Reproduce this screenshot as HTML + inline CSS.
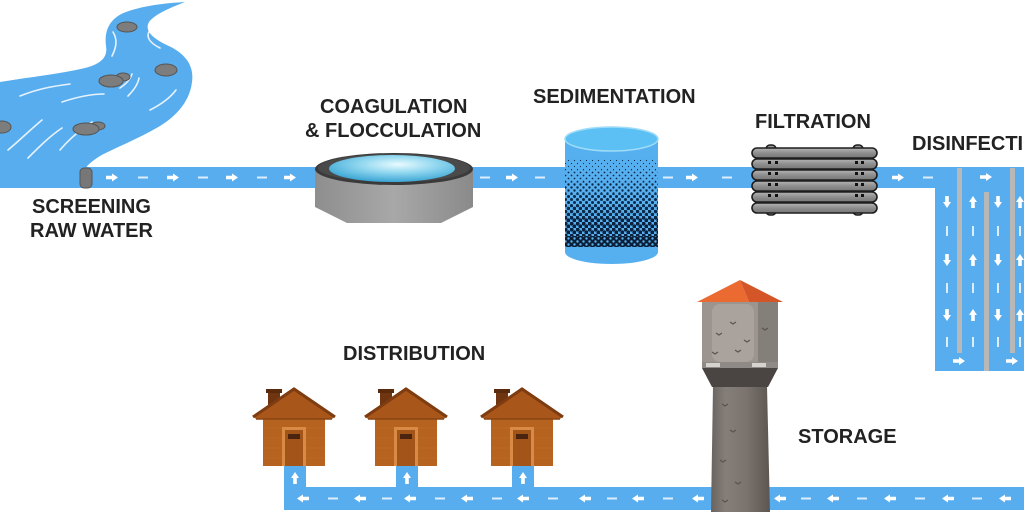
<!DOCTYPE html>
<html><head><meta charset="utf-8"><style>
html,body{margin:0;padding:0;background:#fff;}
svg{display:block;}
text{font-family:"Liberation Sans",Arial,sans-serif;font-weight:bold;font-size:20px;fill:#222;}
</style></head><body>
<svg width="1024" height="512" viewBox="0 0 1024 512" xmlns="http://www.w3.org/2000/svg">
<defs>
<path id="ar" d="M-6,-1.8H0V-4L6,0L0,4V1.8H-6Z" fill="#fff"/>
<rect id="dh" x="-5" y="-1" width="10" height="2" fill="#dceefc"/>
<rect id="dv" x="-1" y="-5" width="2" height="10" fill="#dceefc"/>
<radialGradient id="water" cx="0.55" cy="0.35" r="0.7">
<stop offset="0" stop-color="#e8fbff"/><stop offset="0.45" stop-color="#8fd6ef"/><stop offset="1" stop-color="#2f9fd0"/>
</radialGradient>
<linearGradient id="coagBody" x1="0" y1="0" x2="1" y2="0">
<stop offset="0" stop-color="#8e8e8e"/><stop offset="0.5" stop-color="#a8a8a8"/><stop offset="1" stop-color="#8a8a8a"/>
</linearGradient>
<linearGradient id="bar" x1="0" y1="0" x2="0" y2="1">
<stop offset="0" stop-color="#b5b5b5"/><stop offset="0.5" stop-color="#8e8e8e"/><stop offset="1" stop-color="#777"/>
</linearGradient>
<linearGradient id="shaft" x1="0" y1="0" x2="1" y2="0">
<stop offset="0" stop-color="#6a6460"/><stop offset="0.25" stop-color="#857e79"/><stop offset="0.6" stop-color="#7a736e"/><stop offset="1" stop-color="#5c5652"/>
</linearGradient>
<pattern id="p1" width="6" height="6" patternUnits="userSpaceOnUse"><circle cx="1.5" cy="1.5" r="0.6" fill="#0d2a4a"/><circle cx="4.5" cy="4.5" r="0.6" fill="#0d2a4a"/></pattern>
<pattern id="p2" width="6" height="6" patternUnits="userSpaceOnUse"><circle cx="1.5" cy="1.5" r="0.9" fill="#0d2a4a"/><circle cx="4.5" cy="4.5" r="0.9" fill="#0d2a4a"/></pattern>
<pattern id="p3" width="6" height="6" patternUnits="userSpaceOnUse"><circle cx="1.5" cy="1.5" r="1.2" fill="#0d2a4a"/><circle cx="4.5" cy="4.5" r="1.2" fill="#0d2a4a"/></pattern>
<pattern id="p4" width="6" height="6" patternUnits="userSpaceOnUse"><circle cx="1.5" cy="1.5" r="1.5" fill="#0d2a4a"/><circle cx="4.5" cy="4.5" r="1.5" fill="#0d2a4a"/></pattern>
<pattern id="p5" width="6" height="6" patternUnits="userSpaceOnUse"><circle cx="1.5" cy="1.5" r="1.8" fill="#0d2a4a"/><circle cx="4.5" cy="4.5" r="1.8" fill="#0d2a4a"/></pattern>
<pattern id="p6" width="6" height="6" patternUnits="userSpaceOnUse"><circle cx="1.5" cy="1.5" r="2.1" fill="#0b2240"/><circle cx="4.5" cy="4.5" r="2.1" fill="#0b2240"/></pattern>
<pattern id="p7" width="6" height="6" patternUnits="userSpaceOnUse"><rect width="6" height="6" fill="#0b1f38"/><circle cx="1.5" cy="1.5" r="1.2" fill="#5ab2ee"/><circle cx="4.5" cy="4.5" r="1.2" fill="#5ab2ee"/></pattern>
<g id="house">
<rect x="-31" y="26" width="62" height="52" fill="#b5631e"/>
<g stroke="#c87a3a" stroke-width="0.6" opacity="0.5">
<line x1="-31" y1="40" x2="31" y2="40"/><line x1="-31" y1="50" x2="31" y2="50"/><line x1="-31" y1="60" x2="31" y2="60"/><line x1="-31" y1="70" x2="31" y2="70"/>
</g>
<rect x="-26" y="2" width="12" height="16" fill="#6e3510"/>
<rect x="-28" y="1" width="16" height="4" fill="#5a2a0c"/>
<polygon points="-41,28 0,0 41,28 38,31 -38,31" fill="#a8561a"/>
<polyline points="-41,29 0,1 41,29" fill="none" stroke="#7e3c10" stroke-width="3" stroke-linejoin="miter"/>
<line x1="-38" y1="31" x2="38" y2="31" stroke="#8a4414" stroke-width="1.5"/>
<rect x="-12" y="39" width="24" height="39" fill="#d98a45"/>
<rect x="-9" y="42" width="18" height="36" fill="#a35418"/>
<rect x="-6" y="46" width="12" height="5" fill="#4a2410"/>
</g>
</defs>

<!-- River -->
<path d="M0,82 C30,77 60,74 85,68 C100,64 108,58 106,46 C104,30 110,18 126,12 C142,6 165,3 185,2 C170,8 155,14 149,22 C144,31 153,39 171,47 C188,56 194,68 192,82 C190,100 178,115 160,126 C140,138 115,148 100,156 C92,161 86,166 85,170 L85,188 L0,188 Z" fill="#58adef"/>
<g fill="none" stroke="#fff" stroke-width="1.6" stroke-linecap="round" opacity="0.85">
<path d="M113,32 C118,40 116,48 112,56"/>
<path d="M150,30 C145,37 150,43 160,48"/>
<path d="M120,88 C126,84 130,80 132,74"/>
<path d="M128,96 C134,90 138,84 139,78"/>
<path d="M20,96 C40,88 55,86 70,84"/>
<path d="M8,150 C20,140 30,130 42,120"/>
<path d="M28,158 C40,146 50,136 62,128"/>
<path d="M60,150 C70,138 80,130 92,122"/>
<path d="M150,110 C160,105 170,98 176,90"/>
<path d="M62,102 C80,96 92,94 104,94"/>
</g>
<g fill="#7d7d7d" stroke="#555" stroke-width="1">
<ellipse cx="127" cy="27" rx="10" ry="5"/>
<ellipse cx="166" cy="70" rx="11" ry="6"/>
<ellipse cx="123" cy="77" rx="7" ry="4"/>
<ellipse cx="111" cy="81" rx="12" ry="6"/>
<ellipse cx="98" cy="126" rx="7" ry="4"/>
<ellipse cx="86" cy="129" rx="13" ry="6"/>
<ellipse cx="2" cy="127" rx="9" ry="6"/>
</g>

<!-- Top pipe -->
<rect x="85" y="167" width="850" height="21" fill="#58adef"/>
<rect x="80" y="168" width="12" height="20" rx="4" fill="#777" stroke="#555" stroke-width="1"/>
<g>
<use href="#ar" x="112" y="177.5"/><use href="#ar" x="173" y="177.5"/><use href="#ar" x="232" y="177.5"/><use href="#ar" x="290" y="177.5"/>
<use href="#ar" x="512" y="177.5"/><use href="#ar" x="692" y="177.5"/><use href="#ar" x="898" y="177.5"/>
<use href="#dh" x="143" y="177.5"/><use href="#dh" x="203" y="177.5"/><use href="#dh" x="262" y="177.5"/>
<use href="#dh" x="485" y="177.5"/><use href="#dh" x="540" y="177.5"/><use href="#dh" x="668" y="177.5"/><use href="#dh" x="727" y="177.5"/><use href="#dh" x="928" y="177.5"/>
</g>

<!-- Disinfection block -->
<rect x="935" y="167" width="89" height="204" fill="#58adef"/>
<rect x="957" y="168" width="5" height="185" fill="#b8b8b8"/>
<rect x="984" y="192" width="5" height="179" fill="#b8b8b8"/>
<rect x="1010" y="168" width="5" height="185" fill="#b8b8b8"/>
<g>
<use href="#ar" transform="translate(947,202) rotate(90)"/><use href="#ar" transform="translate(947,260) rotate(90)"/><use href="#ar" transform="translate(947,315) rotate(90)"/>
<use href="#ar" transform="translate(973,202) rotate(-90)"/><use href="#ar" transform="translate(973,260) rotate(-90)"/><use href="#ar" transform="translate(973,315) rotate(-90)"/>
<use href="#ar" transform="translate(998,202) rotate(90)"/><use href="#ar" transform="translate(998,260) rotate(90)"/><use href="#ar" transform="translate(998,315) rotate(90)"/>
<use href="#ar" transform="translate(1020,202) rotate(-90)"/><use href="#ar" transform="translate(1020,260) rotate(-90)"/><use href="#ar" transform="translate(1020,315) rotate(-90)"/>
<use href="#dv" x="947" y="231"/><use href="#dv" x="947" y="288"/><use href="#dv" x="947" y="342"/>
<use href="#dv" x="973" y="231"/><use href="#dv" x="973" y="288"/><use href="#dv" x="973" y="342"/>
<use href="#dv" x="998" y="231"/><use href="#dv" x="998" y="288"/><use href="#dv" x="998" y="342"/>
<use href="#dv" x="1020" y="231"/><use href="#dv" x="1020" y="288"/><use href="#dv" x="1020" y="342"/>
<use href="#ar" x="986" y="177"/><use href="#ar" x="959" y="361"/><use href="#ar" x="1012" y="361"/>
</g>

<!-- Coagulation tank -->
<polygon points="315,170 473,170 473,207 441,223 347,223 315,207" fill="url(#coagBody)"/>
<ellipse cx="394" cy="169" rx="79" ry="16" fill="#3a3a3a"/>
<ellipse cx="394" cy="168" rx="76" ry="14" fill="#4a4a4a"/>
<ellipse cx="392" cy="168.5" rx="63" ry="13.5" fill="url(#water)"/>

<!-- Sedimentation cylinder -->
<ellipse cx="611.5" cy="252" rx="46.5" ry="12" fill="#56b0f0"/>
<rect x="565" y="139" width="93" height="113" fill="#56b0f0"/>
<rect x="565" y="158" width="93" height="12" fill="url(#p1)"/>
<rect x="565" y="170" width="93" height="12" fill="url(#p2)"/>
<rect x="565" y="182" width="93" height="12" fill="url(#p3)"/>
<rect x="565" y="194" width="93" height="12" fill="url(#p4)"/>
<rect x="565" y="206" width="93" height="12" fill="url(#p5)"/>
<rect x="565" y="218" width="93" height="18" fill="url(#p6)"/>
<rect x="565" y="236" width="93" height="11" fill="url(#p7)"/>
<ellipse cx="611.5" cy="139" rx="46.5" ry="12" fill="#5cc0f4" stroke="#9fdcf8" stroke-width="1.5"/>

<!-- Filtration -->
<g stroke="#1e1e1e" stroke-width="1.6">
<rect x="766" y="145" width="10" height="70" rx="4" fill="#9a9a9a"/>
<rect x="853" y="145" width="10" height="70" rx="4" fill="#9a9a9a"/>
<rect x="752" y="148" width="125" height="10" rx="5" fill="url(#bar)"/>
<rect x="752" y="159" width="125" height="10" rx="5" fill="url(#bar)"/>
<rect x="752" y="170" width="125" height="10" rx="5" fill="url(#bar)"/>
<rect x="752" y="181" width="125" height="10" rx="5" fill="url(#bar)"/>
<rect x="752" y="192" width="125" height="10" rx="5" fill="url(#bar)"/>
<rect x="752" y="203" width="125" height="10" rx="5" fill="url(#bar)"/>
</g>
<g fill="#111">
<rect x="768" y="161" width="3" height="3"/><rect x="775" y="161" width="3" height="3"/><rect x="855" y="161" width="3" height="3"/><rect x="861" y="161" width="3" height="3"/>
<rect x="768" y="172" width="3" height="3"/><rect x="775" y="172" width="3" height="3"/><rect x="855" y="172" width="3" height="3"/><rect x="861" y="172" width="3" height="3"/>
<rect x="768" y="183" width="3" height="3"/><rect x="775" y="183" width="3" height="3"/><rect x="855" y="183" width="3" height="3"/><rect x="861" y="183" width="3" height="3"/>
<rect x="768" y="194" width="3" height="3"/><rect x="775" y="194" width="3" height="3"/><rect x="855" y="194" width="3" height="3"/><rect x="861" y="194" width="3" height="3"/>
</g>

<!-- Bottom pipe and stubs -->
<rect x="284" y="487" width="740" height="23" fill="#58adef"/>
<rect x="284" y="466" width="22" height="44" fill="#58adef"/>
<rect x="396" y="466" width="22" height="44" fill="#58adef"/>
<rect x="512" y="466" width="22" height="44" fill="#58adef"/>
<g>
<use href="#ar" transform="translate(295,478) rotate(-90)"/><use href="#ar" transform="translate(407,478) rotate(-90)"/><use href="#ar" transform="translate(523,478) rotate(-90)"/>
<use href="#ar" transform="translate(303,498.5) rotate(180)"/><use href="#ar" transform="translate(360,498.5) rotate(180)"/><use href="#ar" transform="translate(410,498.5) rotate(180)"/><use href="#ar" transform="translate(467,498.5) rotate(180)"/><use href="#ar" transform="translate(523,498.5) rotate(180)"/><use href="#ar" transform="translate(585,498.5) rotate(180)"/><use href="#ar" transform="translate(638,498.5) rotate(180)"/><use href="#ar" transform="translate(698,498.5) rotate(180)"/><use href="#ar" transform="translate(780,498.5) rotate(180)"/><use href="#ar" transform="translate(833,498.5) rotate(180)"/><use href="#ar" transform="translate(890,498.5) rotate(180)"/><use href="#ar" transform="translate(948,498.5) rotate(180)"/><use href="#ar" transform="translate(1005,498.5) rotate(180)"/>
<use href="#dh" x="333" y="498.5"/><use href="#dh" x="387" y="498.5"/><use href="#dh" x="440" y="498.5"/><use href="#dh" x="497" y="498.5"/><use href="#dh" x="553" y="498.5"/><use href="#dh" x="612" y="498.5"/><use href="#dh" x="668" y="498.5"/><use href="#dh" x="806" y="498.5"/><use href="#dh" x="862" y="498.5"/><use href="#dh" x="920" y="498.5"/><use href="#dh" x="977" y="498.5"/>
</g>

<!-- Houses -->
<use href="#house" x="294" y="388"/>
<use href="#house" x="406" y="388"/>
<use href="#house" x="522" y="388"/>

<!-- Water tower -->
<polygon points="713,386 767,386 770,512 711,512" fill="url(#shaft)"/>
<polygon points="702,368 778,368 768,387 712,387" fill="#4a4543"/>
<rect x="702" y="302" width="76" height="66" fill="#9c958f"/>
<rect x="712" y="304" width="42" height="58" rx="8" fill="#aaa39d"/>
<rect x="758" y="302" width="20" height="66" fill="#857f7a"/>
<rect x="702" y="362" width="76" height="6" fill="#8f8a86"/>
<rect x="706" y="363" width="14" height="4" fill="#d6d2ce"/><rect x="752" y="363" width="14" height="4" fill="#d6d2ce"/>
<polygon points="697,302 740,280 749,302" fill="#ea6a32"/>
<polygon points="749,302 740,280 783,302" fill="#d45528"/>
<g fill="none" stroke="#5a5350" stroke-width="1.2">
<path d="M730,322 l3,2 l3,-2"/><path d="M716,333 l3,2 l3,-2"/><path d="M744,340 l3,2 l3,-2"/><path d="M762,328 l3,2 l3,-2"/><path d="M712,352 l3,2 l3,-2"/><path d="M735,350 l3,2 l3,-2"/>
<path d="M722,404 l3,2 l3,-2"/><path d="M730,430 l3,2 l3,-2"/><path d="M720,460 l3,2 l3,-2"/><path d="M735,482 l3,2 l3,-2"/><path d="M722,500 l3,2 l3,-2"/>
</g>

<!-- Labels -->
<text x="32" y="213">SCREENING</text>
<text x="30" y="237">RAW WATER</text>
<text x="320" y="113">COAGULATION</text>
<text x="305" y="137">&amp; FLOCCULATION</text>
<text x="533" y="103">SEDIMENTATION</text>
<text x="755" y="128">FILTRATION</text>
<text x="912" y="150">DISINFECTION</text>
<text x="343" y="360">DISTRIBUTION</text>
<text x="798" y="443">STORAGE</text>
</svg>
</body></html>
